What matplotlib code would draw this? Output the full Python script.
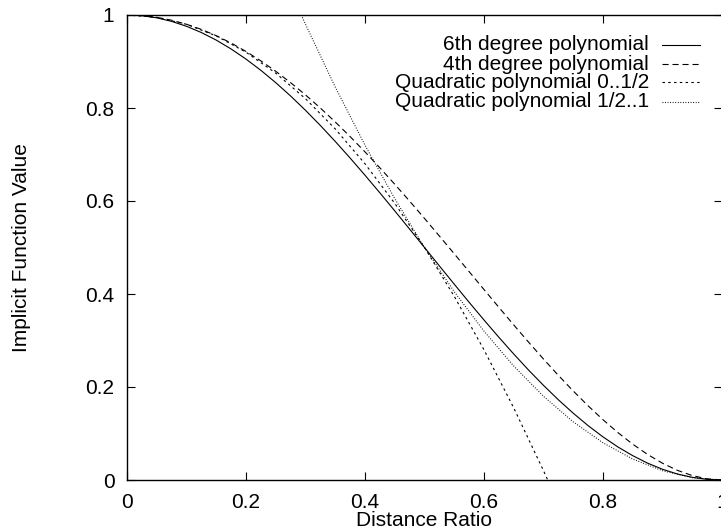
import matplotlib
matplotlib.use("Agg")
import matplotlib.pyplot as plt

plt.rcParams['font.family'] = ['Liberation Sans', 'DejaVu Sans']

# ---- data ----
x_full = [0.0, 0.025, 0.05, 0.075, 0.1, 0.125, 0.15, 0.175, 0.2, 0.225, 0.25, 0.275,
          0.3, 0.325, 0.35, 0.375, 0.4, 0.425, 0.45, 0.475, 0.5, 0.525,
          0.55, 0.575, 0.6, 0.625, 0.65, 0.675, 0.7, 0.725, 0.75, 0.775,
          0.8, 0.825, 0.85, 0.875, 0.9, 0.925, 0.95, 0.975, 1.0]
y_poly6 = [1.0, 0.9985, 0.9939, 0.9863, 0.9757, 0.9623, 0.9460, 0.9269, 0.9052, 0.8810,
           0.8545, 0.8258, 0.7950, 0.7624, 0.7281, 0.6924, 0.6554, 0.6175, 0.5788, 0.5395,
           0.5, 0.4604, 0.4211, 0.3822, 0.3441, 0.3069, 0.2709, 0.2363, 0.2035, 0.1725,
           0.1436, 0.1169, 0.0927, 0.0711, 0.0523, 0.0362, 0.0231, 0.0129, 0.0057, 0.0014, 0.0]
y_poly4 = [1.0, 0.9988, 0.9950, 0.9888, 0.9801, 0.9690, 0.9555, 0.9397, 0.9216, 0.9013,
           0.8789, 0.8545, 0.8281, 0.7999, 0.7700, 0.7385, 0.7056, 0.6714, 0.6360, 0.5997,
           0.5625, 0.5247, 0.4865, 0.4481, 0.4096, 0.3713, 0.3335, 0.2963, 0.2601, 0.2250,
           0.1914, 0.1595, 0.1296, 0.1020, 0.0770, 0.0549, 0.0361, 0.0208, 0.0095, 0.0024, 0.0]
x_quad_a = [0.0, 0.05, 0.1, 0.15, 0.2, 0.25, 0.3, 0.35, 0.4, 0.45, 0.5,
            0.55, 0.6, 0.65, 0.7, 0.7071]
y_quad_a = [1.0, 0.995, 0.98, 0.955, 0.92, 0.875, 0.82, 0.755, 0.68, 0.595, 0.5,
            0.395, 0.28, 0.155, 0.02, 0.0]
x_quad_b = [0.293, 0.3, 0.35, 0.4, 0.45, 0.5, 0.55, 0.6, 0.65, 0.7, 0.75,
            0.8, 0.85, 0.9, 0.95, 1.0]
y_quad_b = [1.0, 0.98, 0.845, 0.72, 0.605, 0.5, 0.405, 0.32, 0.245, 0.18, 0.125,
            0.08, 0.045, 0.02, 0.005, 0.0]

labels = ["6th degree polynomial", "4th degree polynomial",
          "Quadratic polynomial 0..1/2", "Quadratic polynomial 1/2..1"]
tick_vals = [0, 0.2, 0.4, 0.6, 0.8, 1]
tick_labels = ["0", "0.2", "0.4", "0.6", "0.8", "1"]

styles = [
    dict(linestyle='-'),
    dict(linestyle=(0, (5.5, 3.5))),
    dict(linestyle=(0, (2.2, 3))),
    dict(linestyle=(0, (0.8, 1.5))),
]

FS = 15

fig = plt.figure(figsize=(7.21, 5.31), dpi=100)
ax = fig.add_axes([127 / 721, 51 / 531, 595 / 721, 465 / 531])

series = [(x_full, y_poly6), (x_full, y_poly4), (x_quad_a, y_quad_a), (x_quad_b, y_quad_b)]
for (xs, ys), st in zip(series, styles):
    ax.plot(xs, ys, color='black', linewidth=0.8, **st)

ax.set_xlim(0, 1)
ax.set_ylim(0, 1)
ax.set_xticks(tick_vals)
ax.set_xticklabels(tick_labels)
ax.set_yticks(tick_vals)
ax.set_yticklabels(tick_labels)
ax.tick_params(direction='in', length=6, width=0.8, top=True, right=True,
               labelsize=FS)
ax.tick_params(axis='x', pad=9)
ax.tick_params(axis='y', pad=9)
for sp in ax.spines.values():
    sp.set_linewidth(1.0)

ax.set_xlabel("Distance Ratio", fontsize=FS, labelpad=0)
ax.set_ylabel("Implicit Function Value", fontsize=FS, labelpad=39)

# legend (gnuplot style: text right-aligned, sample to the right)
row_y_px = [44.7, 64.0, 82.0, 101.5]
tx = (649 - 127) / 595
lx0 = (662 - 127) / 595
lx1 = (700 - 127) / 595
for lab, st, py in zip(labels, styles, row_y_px):
    yy = (480 - py) / 465
    ax.text(tx, yy, lab, transform=ax.transAxes, ha='right', va='center', fontsize=FS)
    ax.plot([lx0, lx1], [yy, yy], transform=ax.transAxes, color='black',
            linewidth=0.8, clip_on=False, **st)

fig.savefig("out.png", dpi=100)
